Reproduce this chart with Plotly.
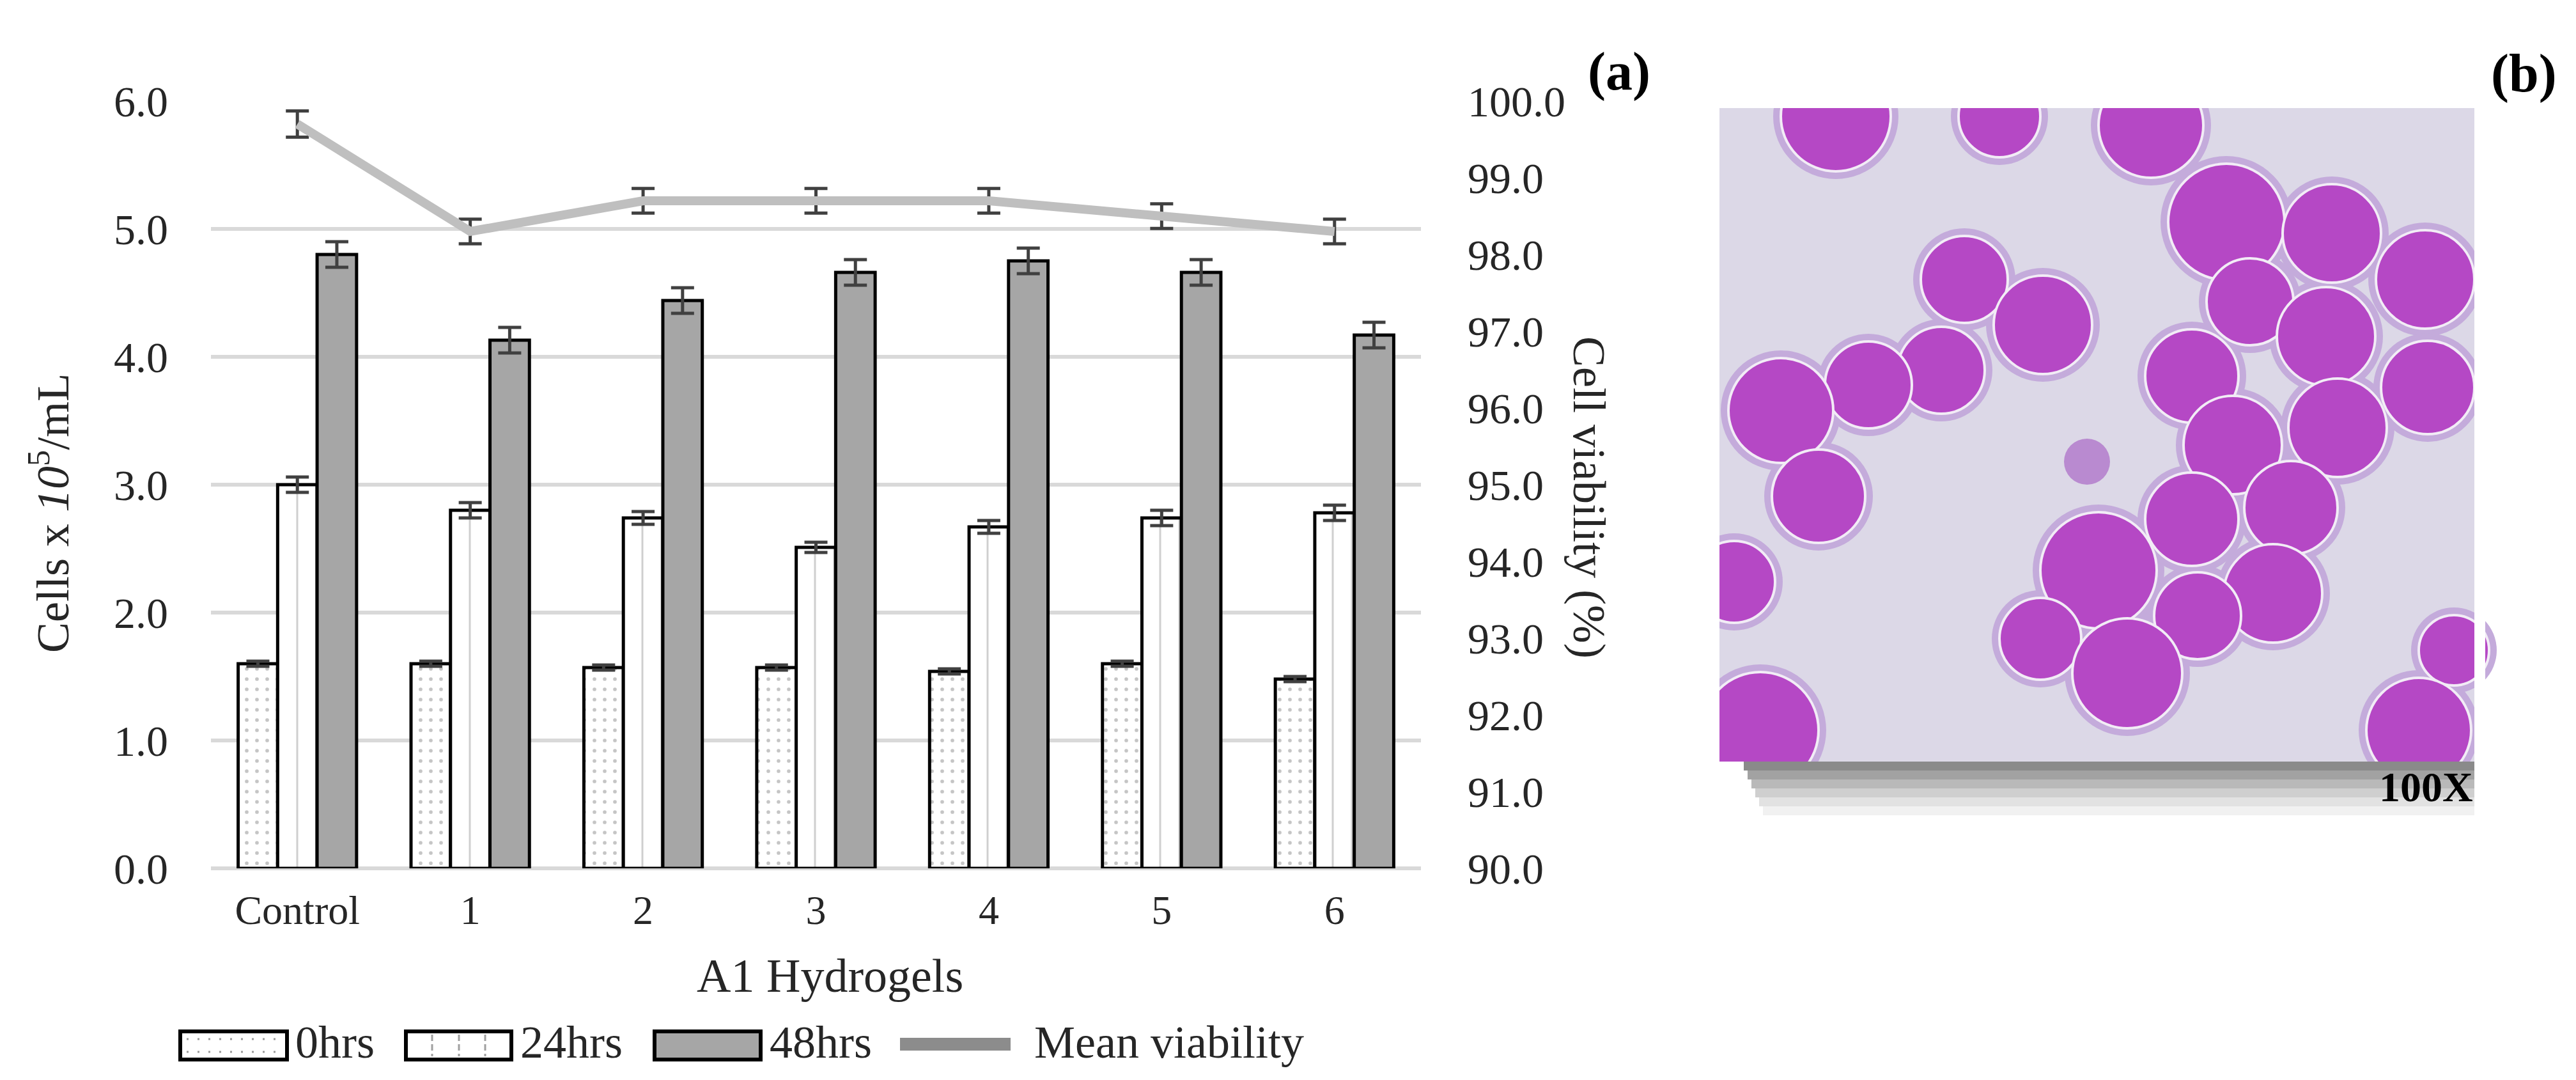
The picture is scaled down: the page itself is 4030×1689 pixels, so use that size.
import plotly.graph_objects as go

W, H = 4030, 1689

# data
groups = ["Control", "1", "2", "3", "4", "5", "6"]
hrs0 = [1.60, 1.60, 1.57, 1.57, 1.54, 1.60, 1.48]
hrs0_err = [0.02, 0.02, 0.02, 0.02, 0.02, 0.02, 0.02]
hrs24 = [3.00, 2.80, 2.74, 2.51, 2.67, 2.74, 2.78]
hrs24_err = [0.06, 0.06, 0.05, 0.04, 0.05, 0.06, 0.06]
hrs48 = [4.80, 4.13, 4.44, 4.66, 4.75, 4.66, 4.17]
hrs48_err = [0.10, 0.10, 0.10, 0.10, 0.10, 0.10, 0.10]
viability = [99.7, 98.3, 98.7, 98.7, 98.7, 98.5, 98.3]
viability_err = [0.17, 0.16, 0.16, 0.16, 0.16, 0.16, 0.16]

left_ticks = [0, 1, 2, 3, 4, 5, 6]
right_ticks = [90, 91, 92, 93, 94, 95, 96, 97, 98, 99, 100]

FONT = "Liberation Serif"
TXT = "#262626"


def px(x):
    return x / W


def py(y):
    return 1 - y / H


def errs(arr):
    return dict(type="data", array=arr, color="#404040", thickness=5, width=18)


fig = go.Figure()

fig.add_trace(go.Bar(
    x=groups, y=hrs0, name="0hrs", error_y=errs(hrs0_err),
    marker=dict(color="white", line=dict(color="black", width=5),
                pattern=dict(shape=".", fgcolor="#8C8C8C", bgcolor="white",
                             size=16, solidity=0.1)),
))
fig.add_trace(go.Bar(
    x=groups, y=hrs24, name="24hrs", error_y=errs(hrs24_err),
    marker=dict(color="white", line=dict(color="black", width=5),
                pattern=dict(shape="|", fgcolor="#A0A0A0", bgcolor="white",
                             size=30, solidity=0.1)),
))
fig.add_trace(go.Bar(
    x=groups, y=hrs48, name="48hrs", error_y=errs(hrs48_err),
    marker=dict(color="#A6A6A6", line=dict(color="black", width=5)),
))
fig.add_trace(go.Scatter(
    x=groups, y=viability, name="Mean viability", yaxis="y2", mode="lines",
    line=dict(color="#BFBFBF", width=14), error_y=errs(viability_err),
))

tickfont = dict(family=FONT, size=68, color=TXT)

fig.update_layout(
    width=W, height=H,
    margin=dict(l=0, r=0, t=0, b=0),
    paper_bgcolor="white", plot_bgcolor="white",
    showlegend=False,
    barmode="group", bargap=0.315, bargroupgap=0,
    xaxis=dict(domain=[px(322), px(2215)], type="category",
               showgrid=False, showline=False, zeroline=False, ticks="",
               tickfont=dict(family=FONT, size=64, color=TXT),
               ticklabelstandoff=22, automargin=False),
    yaxis=dict(domain=[py(1350), py(150)], range=[0, 6],
               tickvals=left_ticks, tickformat=".1f",
               showgrid=True, gridcolor="#D9D9D9", gridwidth=6,
               zeroline=True, zerolinecolor="#D9D9D9", zerolinewidth=6,
               showline=False, ticks="", tickfont=tickfont,
               ticklabelstandoff=66, automargin=False),
    yaxis2=dict(overlaying="y", side="right", anchor="x", range=[90, 100],
                tickvals=right_ticks, tickformat=".1f",
                showgrid=False, zeroline=False, showline=False, ticks="",
                tickfont=tickfont, ticklabelstandoff=72, automargin=False),
)

ann = []
shapes = []

# axis titles and panel labels
ann.append(dict(text="Cells x <i>10</i><sup>5</sup>/mL", x=px(70), y=py(795),
                textangle=-90, font=dict(family=FONT, size=72, color=TXT)))
ann.append(dict(text="Cell viability (%)", x=px(2478), y=py(770),
                textangle=90, font=dict(family=FONT, size=72, color=TXT)))
ann.append(dict(text="A1 Hydrogels", x=px(1290), y=py(1518),
                font=dict(family=FONT, size=74, color=TXT)))
ann.append(dict(text="<b>(a)</b>", x=px(2525), y=py(104),
                font=dict(family=FONT, size=84, color="black")))
ann.append(dict(text="<b>(b)</b>", x=px(3940), y=py(107),
                font=dict(family=FONT, size=84, color="black")))

# custom legend (large swatches like the original)
leg_y0, leg_y1 = 1605, 1649
leg_font = dict(family=FONT, size=72, color=TXT)


def box(x0, x1, fill):
    shapes.append(dict(type="rect", xref="paper", yref="paper",
                       x0=px(x0), x1=px(x1), y0=py(leg_y1), y1=py(leg_y0),
                       fillcolor=fill, line=dict(color="black", width=6)))


def seg(x0, y0, x1, y1, color, width, dash="solid"):
    shapes.append(dict(type="line", xref="paper", yref="paper",
                       x0=px(x0), y0=py(y0), x1=px(x1), y1=py(y1),
                       line=dict(color=color, width=width, dash=dash)))


box(274, 441, "white")
for yy in (1617, 1637):
    seg(284, yy, 432, yy, "#9A9A9A", 3, "3px,14px")
box(627, 792, "white")
for xx in (668, 710, 751):
    seg(xx, 1610, xx, 1644, "#A0A0A0", 3, "10px,5px")
box(1016, 1182, "#A6A6A6")
seg(1400, 1625, 1573, 1625, "#8C8C8C", 20)

for label, x in [("0hrs", 452), ("24hrs", 804), ("48hrs", 1194), ("Mean viability", 1608)]:
    ann.append(dict(text=label, x=px(x), y=py(1622), xanchor="left", font=leg_font))

# panel (b): simplified drawing of the micrograph
photo = (2682, 161, 3863, 1183)
shapes.append(dict(type="rect", xref="paper", yref="paper", layer="below",
                   x0=px(photo[0]), x1=px(photo[2]), y0=py(photo[3]), y1=py(photo[1]),
                   fillcolor="#DCD8E7", line=dict(width=0)))

cells = [
    (2864, 174, 86), (3120, 174, 64), (3357, 188, 82), (3065, 429, 68),
    (3188, 500, 77), (3029, 571, 68), (2915, 594, 68), (2778, 634, 82),
    (2837, 768, 73), (3475, 339, 91), (3640, 357, 77), (3786, 429, 77),
    (3512, 464, 68), (3631, 518, 77), (3421, 580, 73), (3790, 598, 73),
    (3649, 661, 77), (3485, 688, 77), (3576, 786, 73), (3421, 804, 73),
    (3275, 884, 91), (3548, 920, 77), (3430, 955, 68), (3184, 991, 64),
    (3320, 1045, 86), (2705, 902, 64), (2746, 1134, 91), (3831, 1009, 55),
    (3776, 1134, 82),
]
for cx, cy, r in cells:
    rr = r + 12
    shapes.append(dict(type="circle", xref="paper", yref="paper",
                       x0=px(cx - rr), x1=px(cx + rr), y0=py(cy + rr), y1=py(cy - rr),
                       fillcolor="#C4ABDB", line=dict(width=0)))
for cx, cy, r in cells:
    shapes.append(dict(type="circle", xref="paper", yref="paper",
                       x0=px(cx - r), x1=px(cx + r), y0=py(cy + r), y1=py(cy - r),
                       fillcolor="#B548C5", line=dict(color="#F2ECF6", width=4)))
shapes.append(dict(type="circle", xref="paper", yref="paper",
                   x0=px(3221), x1=px(3293), y0=py(750), y1=py(678),
                   fillcolor="#B98AD0", line=dict(width=0)))

# white masks to crop the cells to the photo frame
for x0, y0, x1, y1 in [(2620, 0, 3880, photo[1]), (2620, 0, photo[0], 1320),
                       (photo[2], 0, 3880, 1320), (2620, photo[3], 3880, 1320)]:
    shapes.append(dict(type="rect", xref="paper", yref="paper",
                       x0=px(x0), x1=px(x1), y0=py(y1), y1=py(y0),
                       fillcolor="white", line=dict(width=0)))

# drop shadow under the photo
shade = ["#8A8A8A", "#A2A2A2", "#B9B9B9", "#CFCFCF", "#E2E2E2", "#F1F1F1"]
for i, c in enumerate(shade):
    shapes.append(dict(type="rect", xref="paper", yref="paper",
                       x0=px(2720 + i * 6), x1=px(photo[2]),
                       y0=py(photo[3] + 14 * (i + 1)), y1=py(photo[3] + 14 * i),
                       fillcolor=c, line=dict(width=0)))

ann.append(dict(text="<b>100X</b>", x=px(3863), y=py(1222), xanchor="right",
                font=dict(family=FONT, size=66, color="black")))

for a in ann:
    a.setdefault("xref", "paper")
    a.setdefault("yref", "paper")
    a.setdefault("xanchor", "center")
    a.setdefault("yanchor", "middle")
    a.setdefault("showarrow", False)

fig.update_layout(annotations=ann, shapes=shapes)

fig.write_html("out.html")
